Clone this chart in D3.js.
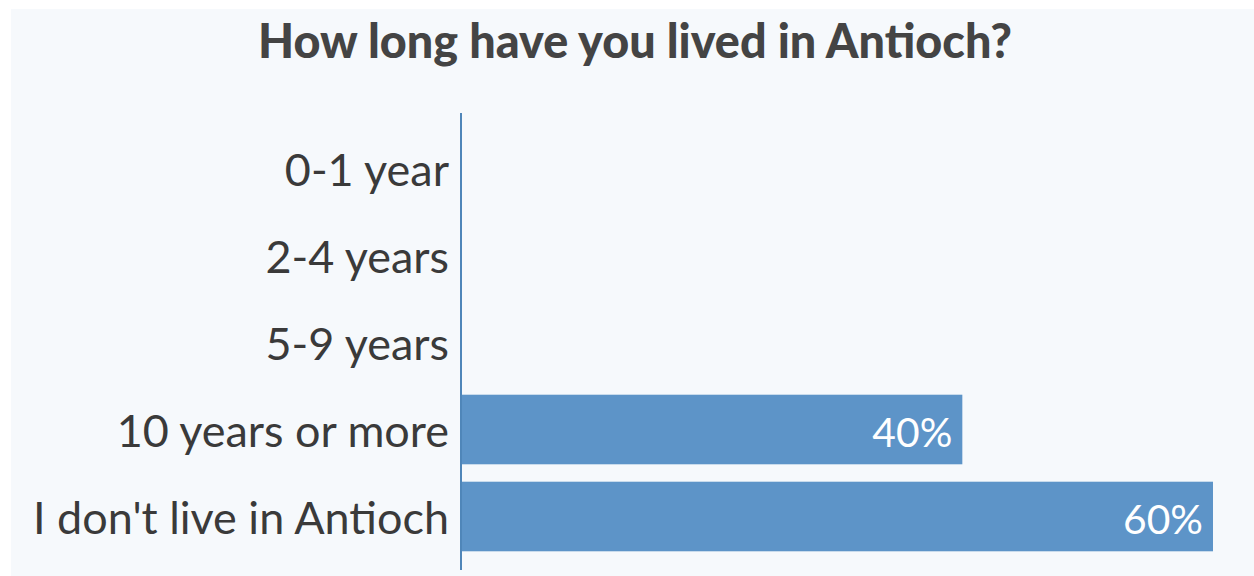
<!DOCTYPE html>
<html>
<head>
<meta charset="utf-8">
<script src="https://cdn.jsdelivr.net/npm/d3@7"></script>
<style>
  html, body { margin: 0; padding: 0; background: #ffffff; }
  svg { display: block; }
</style>
</head>
<body>
<svg id="chart" width="1254" height="576"></svg>
<script>
// Survey responses: share of respondents by time lived in Antioch
const categories = ["0-1 year", "2-4 years", "5-9 years", "10 years or more", "I don't live in Antioch"];
const percentages = [0, 0, 0, 40, 60];
const titleText = "How long have you lived in Antioch?";

const width = 1254, height = 576;
const svg = d3.select("#chart");

const fontFamily = "Lato, 'Open Sans', 'Noto Sans', sans-serif";

// Panel background
svg.append("rect")
  .attr("x", 11).attr("y", 9)
  .attr("width", width - 11).attr("height", height - 9)
  .attr("fill", "#f6f9fc");

const axisX = 461;
const x = d3.scaleLinear().domain([0, 60]).range([axisX, 1213]);
const y = d3.scaleBand()
  .domain(categories)
  .range([125, 560])
  .paddingInner(0.2)
  .paddingOuter(0.1);

// Fit a text element's font size so its rendered width equals target
function fitWidth(sel, target) {
  const base = 40;
  sel.attr("font-size", base);
  const w = sel.node().getComputedTextLength();
  sel.attr("font-size", base * target / w);
  return sel;
}

// Title: large bold type, condensed to span its width
svg.append("text")
  .attr("x", 258).attr("y", 58)
  .attr("font-family", fontFamily)
  .attr("font-weight", 900)
  .attr("font-size", 47)
  .attr("textLength", 754)
  .attr("lengthAdjust", "spacingAndGlyphs")
  .attr("fill", "#444444")
  .text(titleText);

// Bars
svg.append("g").selectAll("rect")
  .data(categories.map((c, i) => ({ c, v: percentages[i] })))
  .join("rect")
  .attr("x", axisX + 1)
  .attr("y", d => y(d.c))
  .attr("width", d => Math.max(0, x(d.v) - axisX - 1))
  .attr("height", y.bandwidth())
  .attr("fill", "#5d94c8");

// Category labels
const labels = svg.append("g").selectAll("text")
  .data(categories)
  .join("text")
  .attr("x", axisX - 12)
  .attr("y", d => y(d) + y.bandwidth() / 2 + 17)
  .attr("text-anchor", "end")
  .attr("font-family", fontFamily)
  .attr("fill", "#3a3a3a")
  .text(d => d);
// size the labels from the longest one
{
  const longest = labels.filter(d => d === "I don't live in Antioch");
  fitWidth(longest, 416);
  const fs = longest.attr("font-size");
  labels.attr("font-size", fs);
}

// Value labels inside bars
const valueLabels = svg.append("g").selectAll("text")
  .data(categories.map((c, i) => ({ c, v: percentages[i] })).filter(d => d.v > 0))
  .join("text")
  .attr("x", d => x(d.v) - 10)
  .attr("y", d => y(d.c) + y.bandwidth() / 2 + 17)
  .attr("text-anchor", "end")
  .attr("font-family", fontFamily)
  .attr("fill", "#ffffff")
  .text(d => d.v + "%");
{
  const first = valueLabels.filter((d, i) => i === 0);
  fitWidth(first, 80);
  valueLabels.attr("font-size", first.attr("font-size"));
}

// Vertical axis line
svg.append("line")
  .attr("x1", axisX).attr("x2", axisX)
  .attr("y1", 113).attr("y2", 570)
  .attr("stroke", "#4f86b9")
  .attr("stroke-width", 2);
</script>
</body>
</html>
